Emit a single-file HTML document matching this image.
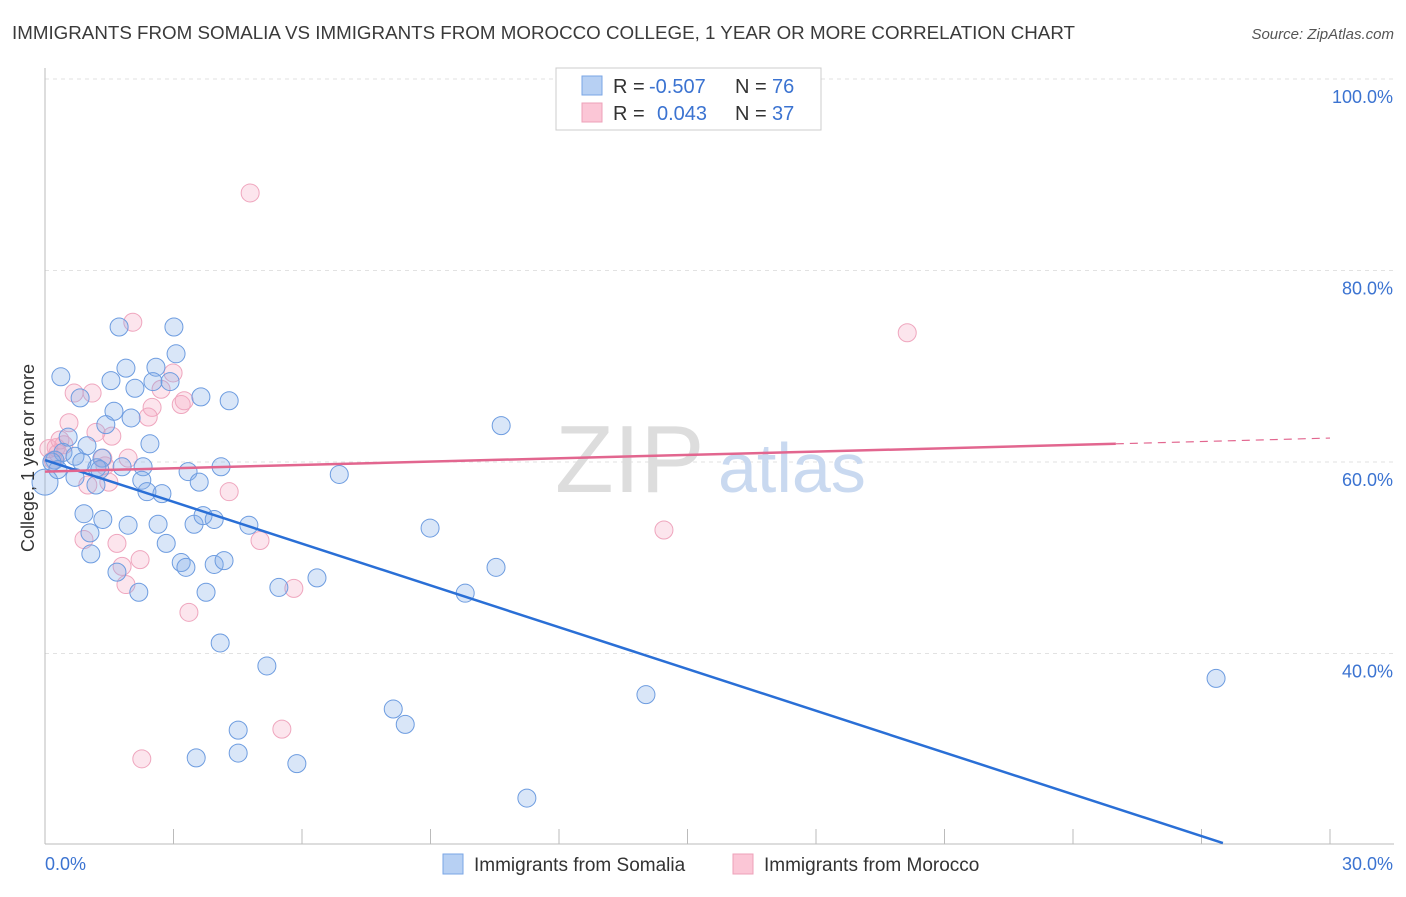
<!DOCTYPE html>
<html><head><meta charset="utf-8"><style>
body{margin:0;background:#fff;font-family:"Liberation Sans",sans-serif;}
svg text{font-family:"Liberation Sans",sans-serif;}
</style></head><body>
<svg id="chart" width="1406" height="892" xmlns="http://www.w3.org/2000/svg">
<text x="12" y="39" font-size="18" fill="#3a3a3a" textLength="1063" lengthAdjust="spacingAndGlyphs">IMMIGRANTS FROM SOMALIA VS IMMIGRANTS FROM MOROCCO COLLEGE, 1 YEAR OR MORE CORRELATION CHART</text>
<text x="1394" y="39" font-size="15" font-style="italic" fill="#555" text-anchor="end">Source: ZipAtlas.com</text>
<g id="grid"></g>
<text x="555" y="492" font-size="96" fill="#ddd" font-family="Liberation Serif">ZIP</text>
<text x="718" y="492" font-size="70" fill="#c9d9f0">atlas</text>
<g id="points"></g>
<g id="lines"></g>
<text transform="translate(34,458) rotate(-90)" font-size="18" fill="#333" text-anchor="middle">College, 1 year or more</text>
<g>
<rect x="556" y="68" width="265" height="62" fill="#fff" stroke="#ccc"/>
<rect x="582" y="76" width="20" height="19" fill="#b7d0f3" stroke="#7aa6e6"/>
<rect x="582" y="103" width="20" height="19" fill="#fbc6d6" stroke="#eea0b8"/>
<text x="613" y="93" font-size="20" fill="#333">R =</text>
<text x="649" y="93" font-size="20" fill="#3b73d1">-0.507</text>
<text x="735" y="93" font-size="20" fill="#333">N =</text>
<text x="772" y="93" font-size="20" fill="#3b73d1">76</text>
<text x="613" y="120" font-size="20" fill="#333">R =</text>
<text x="657" y="120" font-size="20" fill="#3b73d1">0.043</text>
<text x="735" y="120" font-size="20" fill="#333">N =</text>
<text x="772" y="120" font-size="20" fill="#3b73d1">37</text>
</g>
<g>
<rect x="443" y="854" width="20" height="20" fill="#b7d0f3" stroke="#7aa6e6"/>
<text x="474" y="871" font-size="19" fill="#333">Immigrants from Somalia</text>
<rect x="733" y="854" width="20" height="20" fill="#fbc6d6" stroke="#eea0b8"/>
<text x="764" y="871" font-size="19" fill="#333">Immigrants from Morocco</text>
</g>
</svg>
<script>
const yTicks=[40,60,80,100];
const yTickLabels=["40.0%","60.0%","80.0%","100.0%"];
const xTicks=[0,3,6,9,12,15,18,21,24,27,30];
const xEndLabels=["0.0%","30.0%"];
const somaliaX=[1.73,3.01,3.06,0.37,1.89,2.59,1.54,2.52,2.10,2.92,0.82,3.64,4.30,1.61,2.01,1.42,2.45,0.54,0.98,0.42,0.23,0.70,1.33,1.80,1.21,0.70,2.29,3.34,4.11,2.26,3.60,1.19,2.38,2.73,6.87,10.65,0.91,1.35,1.94,2.64,3.48,3.69,3.95,4.76,1.05,2.83,1.07,3.18,3.29,3.95,4.18,1.68,2.19,3.76,5.46,6.35,4.09,5.18,8.99,10.53,9.81,8.13,8.41,4.51,3.53,4.51,5.88,14.03,11.25,27.34,0.0,0.16,0.30,0.86,1.28];
const somaliaY=[74.1,74.1,71.3,68.9,69.8,69.9,68.5,68.4,67.7,68.4,66.7,66.8,66.4,65.3,64.6,63.9,61.9,62.6,61.7,61.0,60.2,60.6,60.4,59.5,59.4,58.4,59.5,59.0,59.5,58.1,57.9,57.6,56.9,56.7,58.7,63.8,54.6,54.0,53.4,53.5,53.5,54.4,54.0,53.4,52.6,51.5,50.4,49.5,49.0,49.3,49.7,48.5,46.4,46.4,46.9,47.9,41.1,38.7,53.1,49.0,46.3,34.2,32.6,32.0,29.1,29.6,28.5,35.7,24.9,37.4,57.9,60.0,59.2,60.0,59.2];
const moroccoX=[4.79,2.05,20.13,0.68,1.10,2.99,2.71,2.50,3.18,3.25,2.41,0.56,1.56,1.19,0.44,0.26,0.09,0.30,1.35,1.94,1.49,1.00,0.91,1.68,2.22,1.80,1.89,3.36,5.02,5.81,14.45,4.30,5.53,2.26,0.19,0.35,1.40];
const moroccoY=[88.1,74.6,73.5,67.2,67.2,69.3,67.6,65.7,66.0,66.4,64.7,64.1,62.7,63.1,61.8,61.5,61.4,60.9,60.4,60.4,57.9,57.6,51.9,51.5,49.8,49.1,47.2,44.3,51.8,46.8,52.9,56.9,32.1,29.0,60.2,62.3,59.6];
const somaliaTrend=[[0,60.2],[27.5,20.2]];
const moroccoTrend=[[0,59.0],[25,61.9],[30,62.5]];
const NS="http://www.w3.org/2000/svg";
const X=v=>45+v/30*1285;
const Y=v=>79+(100-v)*9.575;
function mk(t,a,p){const e=document.createElementNS(NS,t);for(const k in a)e.setAttribute(k,a[k]);p.appendChild(e);return e;}
const grid=document.getElementById('grid');
yTicks.forEach((t,i)=>{
 const l=mk('line',{x1:45,x2:1394,y1:Y(t),y2:Y(t),stroke:'#e2e2e2','stroke-dasharray':'4,4'},grid);
 
 
 const tx=mk('text',{x:1393,y:Y(t)+24,'font-size':18,fill:'#3b73d1','text-anchor':'end'},grid);
 tx.textContent=yTickLabels[i];
 
 
});
const ax=mk('line',{x1:45,x2:45,y1:68,y2:844,stroke:'#bbb'},grid);


const bx=mk('line',{x1:45,x2:1394,y1:844,y2:844,stroke:'#bbb'},grid);


xTicks.forEach(t=>{
 const l=mk('line',{x1:X(t),x2:X(t),y1:829,y2:844,stroke:'#bbb'},grid);
 
 
});
const xl0=mk('text',{x:45,y:870,'font-size':18,fill:'#3b73d1'},grid);xl0.textContent=xEndLabels[0];


const xl1=mk('text',{x:1393,y:870,'font-size':18,fill:'#3b73d1','text-anchor':'end'},grid);xl1.textContent=xEndLabels[1];


const pts=document.getElementById('points');
moroccoX.forEach((v,i)=>{
 const c=mk('circle',{cx:X(v),cy:Y(moroccoY[i]),r:9,fill:'rgba(246,170,196,0.3)',stroke:'#efa6be','stroke-width':1},pts);
 
 
});
somaliaX.forEach((v,i)=>{
 const c=mk('circle',{cx:X(v),cy:Y(somaliaY[i]),r:i==70?13:9,fill:'rgba(130,172,232,0.3)',stroke:'#6d9ce0','stroke-width':1},pts);
 
 
});
const lines=document.getElementById('lines');
const sl=mk('line',{x1:X(somaliaTrend[0][0]),y1:Y(somaliaTrend[0][1]),x2:X(somaliaTrend[1][0]),y2:Y(somaliaTrend[1][1]),stroke:'#2a6fd6','stroke-width':2.5},lines);


const ml=mk('line',{x1:X(moroccoTrend[0][0]),y1:Y(moroccoTrend[0][1]),x2:X(moroccoTrend[1][0]),y2:Y(moroccoTrend[1][1]),stroke:'#e2668f','stroke-width':2.5},lines);


const md=mk('line',{x1:X(moroccoTrend[1][0]),y1:Y(moroccoTrend[1][1]),x2:X(moroccoTrend[2][0]),y2:Y(moroccoTrend[2][1]),stroke:'#e2668f','stroke-width':1.2,'stroke-dasharray':'8,6'},lines);


</script>
</body></html>
